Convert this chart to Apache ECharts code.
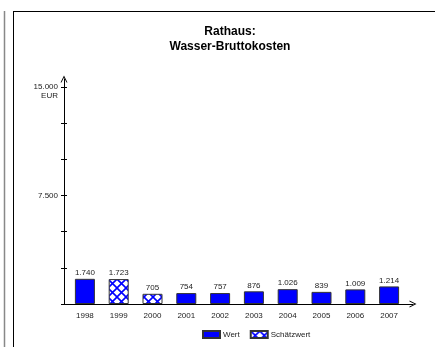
<!DOCTYPE html>
<html><head><meta charset="utf-8">
<script src="https://cdn.jsdelivr.net/npm/echarts@6/dist/echarts.min.js"></script>
<style>html,body{margin:0;padding:0;background:#fff}#c{width:435px;height:347px}</style>
</head><body><div id="c"></div>
<script>
var years = ['1998','1999','2000','2001','2002','2003','2004','2005','2006','2007'];
var wert = [1740, '-', '-', 754, 757, 876, 1026, 839, 1009, 1214];
var schaetzwert = ['-', 1723, 705, '-', '-', '-', '-', '-', '-', '-'];
var yTicksLabeled = [7500, 15000];
var yMax = 15000, yInterval = 2500;

function fmt(v){ return String(Math.round(v)).replace(/\B(?=(\d{3})+(?!\d))/g, '.'); }

var pc = document.createElement('canvas');
pc.width = 9; pc.height = 9;
var g = pc.getContext('2d');
g.fillStyle = '#fff'; g.fillRect(0,0,9,9);
g.strokeStyle = '#0000ff'; g.lineWidth = 1.6;
g.beginPath(); g.moveTo(-1,-1); g.lineTo(10,10); g.moveTo(10,-1); g.lineTo(-1,10); g.stroke();
var hatch = { image: pc, repeat: 'repeat' };

var chevron = 'path://M0,10 L5,0 L10,10 L8.6,10 L5,2.8 L1.4,10 Z';
var font = 'Liberation Sans, Arial, sans-serif';
var chart = echarts.init(document.getElementById('c'));
var labelStyle = { show: true, position: 'top', distance: 2, fontSize: 8, fontFamily: font, color: '#222', formatter: function(p){ return fmt(p.value); } };
chart.setOption({
  animation: false,
  textStyle: { fontFamily: font },
  title: { text: 'Rathaus:\nWasser-Bruttokosten', left: 225, textAlign: 'center', top: 19,
    textStyle: { fontSize: 12, fontWeight: 'bold', color: '#000', lineHeight: 15, fontFamily: font } },
  legend: { left: 197, top: 325, itemWidth: 17, itemHeight: 7, itemGap: 10, icon: 'rect',
    textStyle: { fontSize: 8, color: '#222', fontFamily: font, padding: [0,0,0,-2] },
    data: ['Wert', 'Schätzwert'] },
  grid: [
    { left: 68, width: 338, top: 87, bottom: 43 },
    { left: 64, right: 22, top: 79, bottom: 43 },
    { left: 68, width: 338, top: 87, bottom: 43 }
  ],
  xAxis: [
    { type: 'category', gridIndex: 0, data: years, axisLine: { show: false }, axisTick: { show: false },
      axisLabel: { fontSize: 8, color: '#222', margin: 8, fontFamily: font } },
    { type: 'value', gridIndex: 1, min: 0, max: 1, axisLabel: { show: false }, axisTick: { show: false }, splitLine: { show: false },
      axisLine: { show: true, lineStyle: { color: '#000', width: 1 }, symbol: ['none', chevron], symbolSize: [7, 8] } },
    { type: 'category', gridIndex: 2, data: years, show: false }
  ],
  yAxis: [
    { type: 'value', gridIndex: 0, min: 0, max: yMax, interval: yInterval, offset: 4, splitLine: { show: false },
      axisLine: { show: false }, axisTick: { show: true, length: 3, lineStyle: { color: '#000' } },
      axisLabel: { fontSize: 8, color: '#222', margin: 6, fontFamily: font,
        formatter: function(v){ return yTicksLabeled.indexOf(v) >= 0 ? fmt(v) : ''; } } },
    { type: 'value', gridIndex: 1, min: 0, max: 1, axisLabel: { show: false }, axisTick: { show: false }, splitLine: { show: false },
      axisLine: { show: true, lineStyle: { color: '#000', width: 1 }, symbol: ['none', chevron], symbolSize: [7, 8] } },
    { type: 'value', gridIndex: 2, min: 0, max: yMax, interval: yInterval, offset: 4, splitLine: { show: false },
      axisLine: { show: false }, axisTick: { show: true, inside: true, length: 3, lineStyle: { color: '#000' } },
      axisLabel: { fontSize: 8, color: '#222', margin: 6, fontFamily: font, verticalAlign: 'top', lineHeight: 10, padding: [4,0,0,0],
        formatter: function(v){ return v === yMax ? 'EUR' : ''; } } }
  ],
  series: [
    { name: 'Wert', type: 'bar', xAxisIndex: 0, yAxisIndex: 0, data: wert, barWidth: 20, barGap: '-100%',
      itemStyle: { color: '#0000ff', borderColor: '#333', borderWidth: 1 }, label: labelStyle },
    { name: 'Schätzwert', type: 'bar', xAxisIndex: 0, yAxisIndex: 0, data: schaetzwert, barWidth: 20, barGap: '-100%',
      itemStyle: { color: hatch, borderColor: '#333', borderWidth: 1 }, label: labelStyle }
  ],
  graphic: [
    { type: 'line', shape: { x1: 4.5, y1: 11, x2: 4.5, y2: 347 }, style: { stroke: '#888', lineWidth: 1.5 } },
    { type: 'line', shape: { x1: 13.5, y1: 11, x2: 13.5, y2: 347 }, style: { stroke: '#000', lineWidth: 1 } },
    { type: 'line', shape: { x1: 13, y1: 11.5, x2: 435, y2: 11.5 }, style: { stroke: '#000', lineWidth: 1 } }
  ]
});
</script></body></html>
